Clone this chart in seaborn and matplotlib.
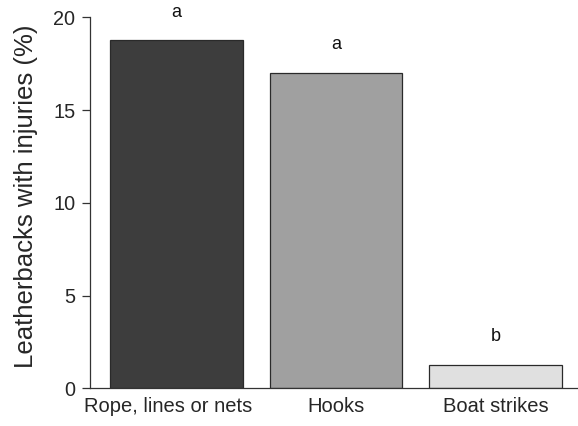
import matplotlib
matplotlib.use("Agg")
import matplotlib.pyplot as plt
import matplotlib.transforms as mtransforms
import seaborn as sns
import pandas as pd

categories = ["Rope, lines or nets", "Hooks", "Boat strikes"]
values = [18.76, 17.01, 1.27]
letters = ["a", "a", "b"]
bar_colors = ["#3d3d3d", "#a0a0a0", "#e0e0e0"]
yticks = [0, 5, 10, 15, 20]

sns.set_theme(style="white")
plt.rcParams["font.family"] = ["Liberation Sans", "DejaVu Sans"]

df = pd.DataFrame({"cat": categories, "val": values})

fig = plt.figure(figsize=(5.78, 4.26), dpi=100)
ax = fig.add_axes([90 / 578, 1 - 388.3 / 426, 1 - 90 / 578, (388.3 - 17.3) / 426])

sns.barplot(data=df, x="cat", y="val", hue="cat", palette=bar_colors, legend=False,
            width=0.83, edgecolor="#2a2a2a", linewidth=0.9, saturation=1, ax=ax)

for i, (v, t) in enumerate(zip(values, letters)):
    ax.annotate(t, (i, v), xytext=(0, 20), textcoords="offset points",
                ha="center", va="center", fontsize=13, color="#111111")

ax.set_ylim(0, 20)
ax.set_xlim(-0.541, 2.518)
ax.set_yticks(yticks)
ax.set_yticklabels([str(t) for t in yticks], fontsize=14.3)
ax.tick_params(axis="y", left=True, length=6, width=0.9, color="#333333", pad=4.5)
ax.tick_params(axis="x", bottom=False, labelsize=14.5, pad=0)
ax.set_xlabel("")
ax.set_ylabel("Leatherbacks with injuries (%)", fontsize=18.5)
ax.yaxis.set_label_coords(-0.106, 0.518)

first = ax.get_xticklabels()[0]
first.set_transform(first.get_transform() +
                    mtransforms.ScaledTranslation(-8 / 100, 0, fig.dpi_scale_trans))

for s in ["top", "right"]:
    ax.spines[s].set_visible(False)
for s in ["left", "bottom"]:
    ax.spines[s].set_color("#333333")
    ax.spines[s].set_linewidth(0.9)

fig.savefig("out.png", dpi=100)
